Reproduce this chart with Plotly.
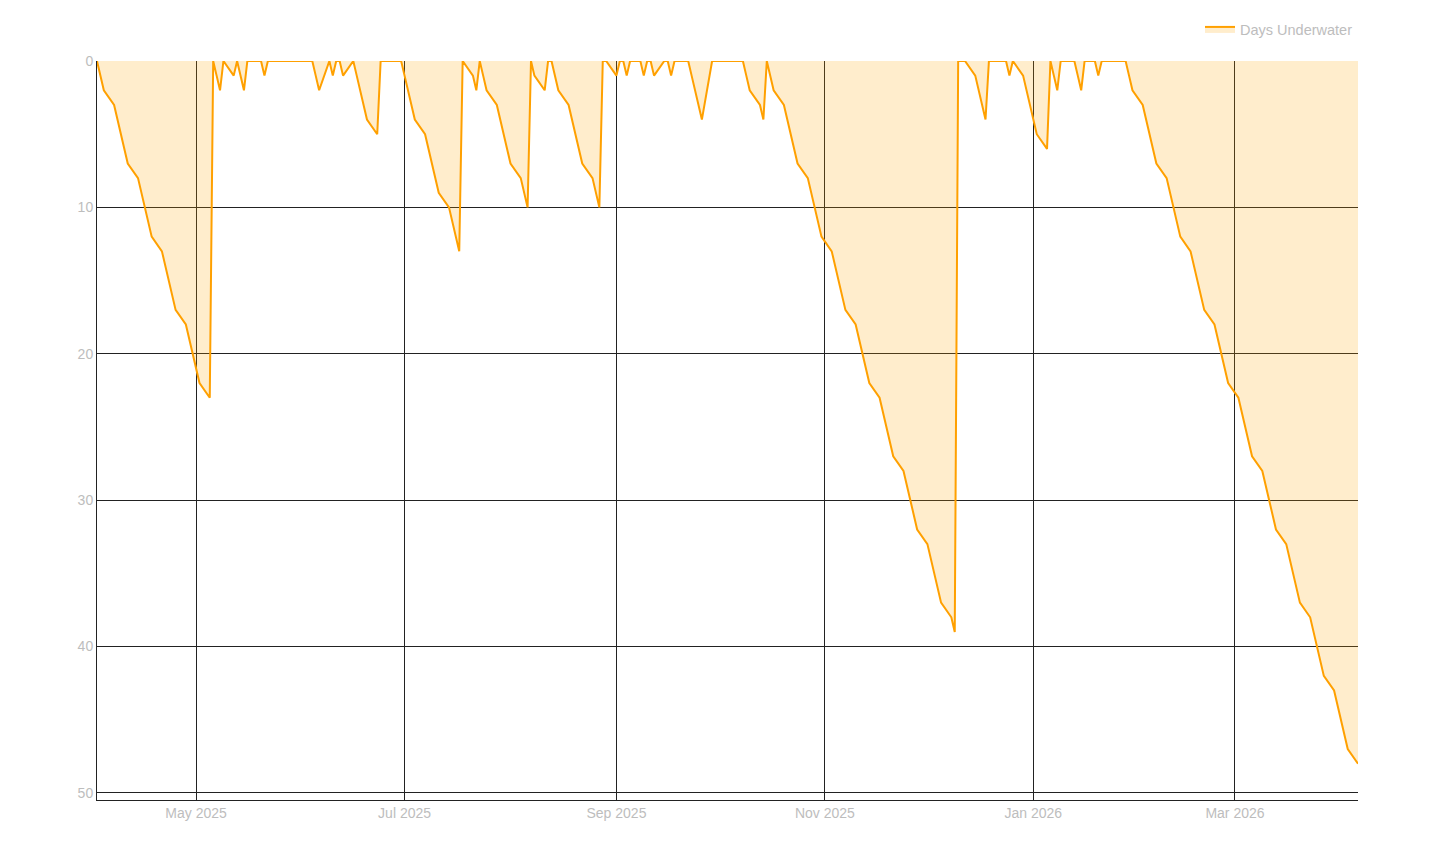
import pandas as pd
import plotly.graph_objects as go

# Business days from 2025-04-02 to 2026-04-06 (x-axis categories)
dates = pd.bdate_range("2025-04-02", "2026-04-06")

# Days underwater per business day, read month by month
apr25 = [0, 1, 2, 3, 4, 5, 6, 7, 8, 9, 10, 11, 12, 13, 14, 15, 16, 17, 18, 19, 20]
may25 = [21, 22, 23, 0, 1, 2, 0, 1, 0, 1, 2, 0, 0, 0, 1, 0, 0, 0, 0, 0, 0, 0]
jun25 = [0, 0, 0, 1, 2, 0, 1, 0, 0, 1, 0, 1, 2, 3, 4, 5, 0, 0, 0, 0, 0]
jul25 = [1, 2, 3, 4, 5, 6, 7, 8, 9, 10, 11, 12, 13, 0, 1, 2, 0, 1, 2, 3, 4, 5, 6]
aug25 = [7, 8, 9, 10, 0, 1, 2, 0, 0, 1, 2, 3, 4, 5, 6, 7, 8, 9, 10, 0, 0]
sep25 = [1, 0, 0, 1, 0, 0, 1, 0, 0, 1, 0, 0, 1, 0, 0, 0, 1, 2, 3, 4, 0, 0]
oct25 = [0, 0, 0, 0, 0, 0, 1, 2, 3, 4, 0, 1, 2, 3, 4, 5, 6, 7, 8, 9, 10, 11, 12]
nov25 = [13, 14, 15, 16, 17, 18, 19, 20, 21, 22, 23, 24, 25, 26, 27, 28, 29, 30, 31, 32]
dec25 = [33, 34, 35, 36, 37, 38, 39, 0, 0, 0, 1, 2, 3, 4, 0, 0, 0, 0, 1, 0, 1, 2, 3]
jan26 = [4, 5, 6, 0, 1, 2, 0, 0, 0, 1, 2, 0, 0, 1, 0, 0, 0, 0, 0, 0, 1, 2]
feb26 = [3, 4, 5, 6, 7, 8, 9, 10, 11, 12, 13, 14, 15, 16, 17, 18, 19, 20, 21, 22]
mar26 = [23, 24, 25, 26, 27, 28, 29, 30, 31, 32, 33, 34, 35, 36, 37, 38, 39, 40, 41, 42, 43, 44]
apr26 = [45, 46, 47, 48]

days_underwater = (apr25 + may25 + jun25 + jul25 + aug25 + sep25 + oct25 + nov25
                   + dec25 + jan26 + feb26 + mar26 + apr26)
assert len(days_underwater) == len(dates), (len(days_underwater), len(dates))

FONT = "Liberation Sans, Arial, Helvetica, sans-serif"
TXT = "#bdbdbd"
GRID = "#222222"

fig = go.Figure()
fig.add_trace(go.Scatter(
    x=dates, y=days_underwater, name="Days Underwater",
    mode="lines", line=dict(color="#FFA000", width=2),
    fill="tozeroy", fillcolor="rgba(255,165,0,0.2)",
    showlegend=True,
))

# page body has an 8px default margin, so the figure is offset by 8px
fig.update_layout(
    width=1448, height=841,
    margin=dict(l=89, r=98, t=53, b=49, autoexpand=False),
    paper_bgcolor="white", plot_bgcolor="white",
    font=dict(family=FONT, size=14, color=TXT),
    showlegend=True,
    legend=dict(orientation="h", x=1, xanchor="right",
                yref="container", y=1 - 21 / 841, yanchor="middle",
                font=dict(family=FONT, size=14.5, color=TXT), bgcolor="rgba(0,0,0,0)"),
    xaxis=dict(
        showgrid=True, gridcolor=GRID, gridwidth=1,
        showline=True, linecolor=GRID, linewidth=1,
        dtick="M2", tick0="2025-01-01", tickformat="%b %Y",
        tickfont=dict(family=FONT, size=14, color=TXT),
        zeroline=False,
    ),
    yaxis=dict(
        range=[50.48, 0],
        showgrid=True, gridcolor=GRID, gridwidth=1,
        showline=True, linecolor=GRID, linewidth=1,
        dtick=10, tick0=0,
        tickfont=dict(family=FONT, size=14, color=TXT),
        zeroline=False,
    ),
)

fig.write_html("out.html")
